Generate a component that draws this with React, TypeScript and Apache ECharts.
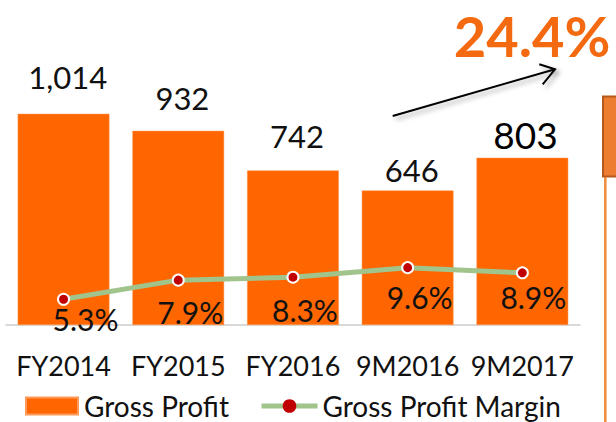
import React, { useEffect, useRef } from "react";
import * as echarts from "echarts";

const categories = ["FY2014", "FY2015", "FY2016", "9M2016", "9M2017"];
const grossProfit = [1014, 932, 742, 646, 803];
const grossMargin = [5.3, 7.9, 8.3, 9.6, 8.9];
const growthLabel = "24.4%";
const seriesNames = ["Gross Profit", "Gross Profit Margin"];

// layout nudges for labels (pixels), not data
const barLabelPos = [[50, -37], [50, -33], [50, -34], [50, -20], [49, -23]];
const marginLabelOffset = [[22, 20], [12, 32], [12, 33], [12, 29], [11, 24]];

const FONT = "Lato, 'Open Sans', sans-serif";
const ORANGE = "#FF6600";

export default function App() {
  const ref = useRef<HTMLDivElement>(null);
  useEffect(() => {
    const chart = echarts.init(ref.current!, null, { renderer: "svg" });
    const fmt = new Intl.NumberFormat("en-US");
    chart.setOption({
      animation: false,
      textStyle: { fontFamily: FONT },
      grid: { left: 6.2, right: 36.3, top: 75, bottom: 97 },
      xAxis: {
        type: "category",
        data: categories,
        axisLine: { lineStyle: { color: "#D9D9D9", width: 2 } },
        axisTick: { show: false },
        axisLabel: {
          interval: 0,
          hideOverlap: false,
          color: "#111",
          fontSize: 27,
          fontFamily: FONT,
          margin: 40,
          verticalAlign: "middle",
        },
      },
      yAxis: [
        { type: "value", min: 0, max: 1200, show: false },
        { type: "value", min: 1.8, max: 35.8, show: false },
      ],
      legend: [
        {
          data: [seriesNames[0]],
          left: 25,
          top: 392,
          padding: 0,
          itemWidth: 52,
          itemHeight: 17,
          itemGap: 6,
          icon: "rect",
          textStyle: { fontSize: 28, color: "#111", fontFamily: FONT, padding: [0, 0, 0, 1] },
        },
        {
          data: [seriesNames[1]],
          left: 259,
          top: 392,
          padding: 0,
          itemWidth: 56,
          itemHeight: 17,
          lineStyle: { width: 5, color: "#A0C48C" },
          itemStyle: { color: "#C00000", borderWidth: 0 },
          textStyle: { fontSize: 28, color: "#111", fontFamily: FONT },
        },
      ],
      series: [
        {
          name: seriesNames[0],
          type: "bar",
          barWidth: "80%",
          itemStyle: { color: ORANGE, borderColor: "#FF9A5A", borderWidth: 0.5 },
          data: grossProfit.map((v, i) => ({
            value: v,
            label:
              i === 4
                ? { position: barLabelPos[i], fontSize: 37, color: "#000" }
                : { position: barLabelPos[i] },
          })),
          label: {
            show: true,
            align: "center",
            verticalAlign: "middle",
            fontSize: 31,
            color: "#111",
            fontFamily: FONT,
            formatter: (p: any) => fmt.format(p.value),
          },
        },
        {
          name: seriesNames[1],
          type: "line",
          yAxisIndex: 1,
          symbol: "circle",
          symbolSize: 11,
          lineStyle: { color: "#A0C48C", width: 5 },
          itemStyle: { color: "#C00000", borderColor: "#fff", borderWidth: 2 },
          data: grossMargin.map((v, i) => ({
            value: v,
            label: { offset: marginLabelOffset[i] },
          })),
          label: {
            show: true,
            position: "inside",
            align: "center",
            verticalAlign: "middle",
            fontSize: 30,
            color: "#111",
            fontFamily: FONT,
            formatter: (p: any) => p.value.toFixed(1) + "%",
          },
        },
      ],
      graphic: [
        {
          type: "text",
          x: 532,
          y: 35,
          style: {
            text: growthLabel,
            fill: "#F46A10",
            font: `bold 56px ${FONT}`,
            textAlign: "center",
            textVerticalAlign: "middle",
          },
        },
        {
          type: "line",
          shape: { x1: 392.7, y1: 116, x2: 555, y2: 69.3 },
          style: {
            stroke: "#000",
            lineWidth: 2,
            shadowBlur: 5,
            shadowColor: "rgba(0,0,0,0.35)",
            shadowOffsetX: 3,
            shadowOffsetY: 3,
          },
        },
        {
          type: "polyline",
          shape: { points: [[539.3, 64.3], [555, 69.3], [542.7, 84.3]] },
          style: {
            stroke: "#000",
            lineWidth: 2,
            fill: null,
            shadowBlur: 5,
            shadowColor: "rgba(0,0,0,0.35)",
            shadowOffsetX: 3,
            shadowOffsetY: 3,
          },
        },
        {
          type: "rect",
          shape: { x: 603, y: 96.5, width: 20, height: 80 },
          style: { fill: "#ED7D31", stroke: "#B5591C", lineWidth: 2 },
        },
        {
          type: "line",
          shape: { x1: 605.3, y1: 177, x2: 605.3, y2: 422 },
          style: { stroke: "#F08A3C", lineWidth: 2.5 },
        },
      ],
    });
    return () => chart.dispose();
  }, []);
  return (
    <div
      ref={ref}
      style={{ position: "fixed", left: 0, top: 0, width: 616, height: 422, background: "#fff" }}
    />
  );
}
